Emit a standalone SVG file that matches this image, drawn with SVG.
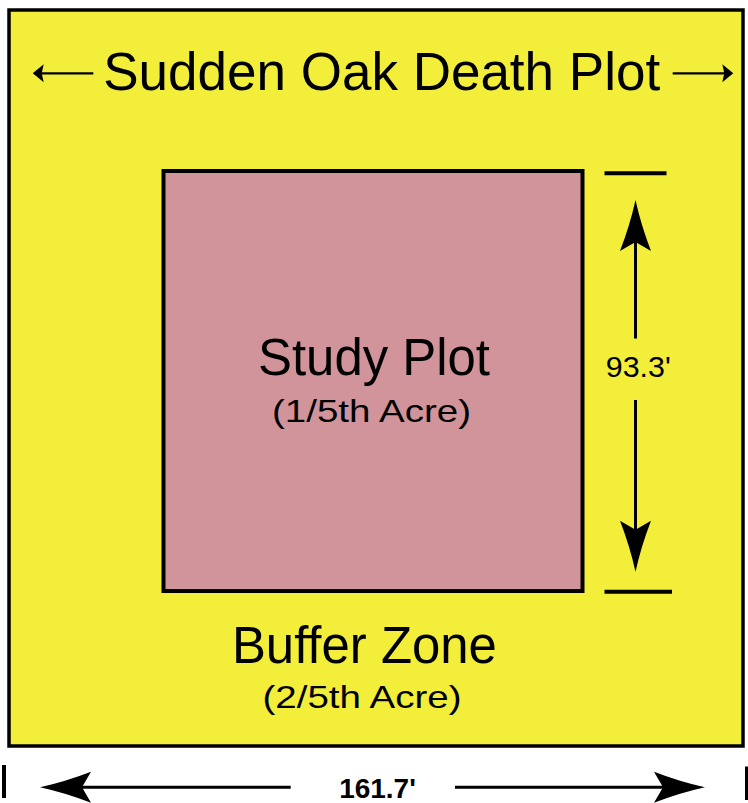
<svg xmlns="http://www.w3.org/2000/svg" width="748" height="803" viewBox="0 0 748 803">
  <style>
    text { font-family: "Liberation Sans", Arial, Helvetica, sans-serif; fill: #000; text-anchor: middle; }
    .big { font-size: 51px; }
    .sub { font-size: 32px; }
    .title { font-size: 53px; }
    .dim { stroke: #000; stroke-width: 3; fill: none; }
    .tick { stroke: #000; stroke-width: 4; fill: none; }
    .thin { stroke: #000; stroke-width: 2.2; fill: none; }
  </style>
  <defs>
    <path id="head" d="M0,0 Q-25,-5.5 -51,-15.5 L-42,0 L-51,15.5 Q-25,5.5 0,0 Z" fill="#000"/>
    <path id="smallhead" d="M0,0 Q-5,-4 -11,-9 L-9,0 L-11,9 Q-5,4 0,0 Z" fill="#000"/>
  </defs>

  <g id="sod-plot">
    <rect x="9" y="10" width="734" height="736" fill="#F2EE3A" stroke="#000" stroke-width="3.5"/>
    <text class="title" x="381.7" y="90">Sudden Oak Death Plot</text>
  </g>

  <g id="study-plot">
    <rect x="163.5" y="171" width="419" height="420" fill="#D2949B" stroke="#000" stroke-width="4"/>
    <text class="big" x="374" y="375" textLength="232" lengthAdjust="spacingAndGlyphs">Study Plot</text>
    <text class="sub" x="371.5" y="421.7" textLength="199" lengthAdjust="spacingAndGlyphs">(1/5th Acre)</text>
  </g>

  <g id="buffer-zone">
    <text class="big" x="364.4" y="663.3" textLength="265" lengthAdjust="spacingAndGlyphs">Buffer Zone</text>
    <text class="sub" x="362" y="708.3" textLength="199" lengthAdjust="spacingAndGlyphs">(2/5th Acre)</text>
  </g>

  <g id="connectors">
    <!-- title arrows -->
    <line class="thin" x1="40" y1="73.3" x2="93.3" y2="73.3"/>
    <use href="#smallhead" transform="translate(32.7,73.3) rotate(180)"/>
    <line class="thin" x1="672.7" y1="73.3" x2="726" y2="73.3"/>
    <use href="#smallhead" transform="translate(733.3,73.3)"/>

    <!-- vertical dimension -->
    <line class="tick" x1="604.5" y1="173.3" x2="666.5" y2="173.3"/>
    <line class="tick" x1="604.5" y1="591.7" x2="672" y2="591.7"/>
    <line class="dim" x1="635.5" y1="240" x2="635.5" y2="338.5"/>
    <use href="#head" transform="translate(635.5,200) rotate(-90)"/>
    <line class="dim" x1="635.5" y1="400" x2="635.5" y2="532"/>
    <use href="#head" transform="translate(635.5,571.7) rotate(90)"/>
    <text x="638.3" y="377" style="font-size:29px" textLength="65" lengthAdjust="spacingAndGlyphs">93.3'</text>

    <!-- horizontal dimension -->
    <line class="tick" x1="4" y1="765" x2="4" y2="798"/>
    <line class="tick" x1="747" y1="766.5" x2="747" y2="800"/>
    <line class="dim" x1="82" y1="787.3" x2="290.7" y2="787.3"/>
    <use href="#head" transform="translate(40,787.3) rotate(180)"/>
    <line class="dim" x1="455" y1="787.3" x2="664" y2="787.3"/>
    <use href="#head" transform="translate(705,787.3)"/>
    <text x="377.5" y="797.7" style="font-size:28px;font-weight:bold">161.7'</text>
  </g>
</svg>
